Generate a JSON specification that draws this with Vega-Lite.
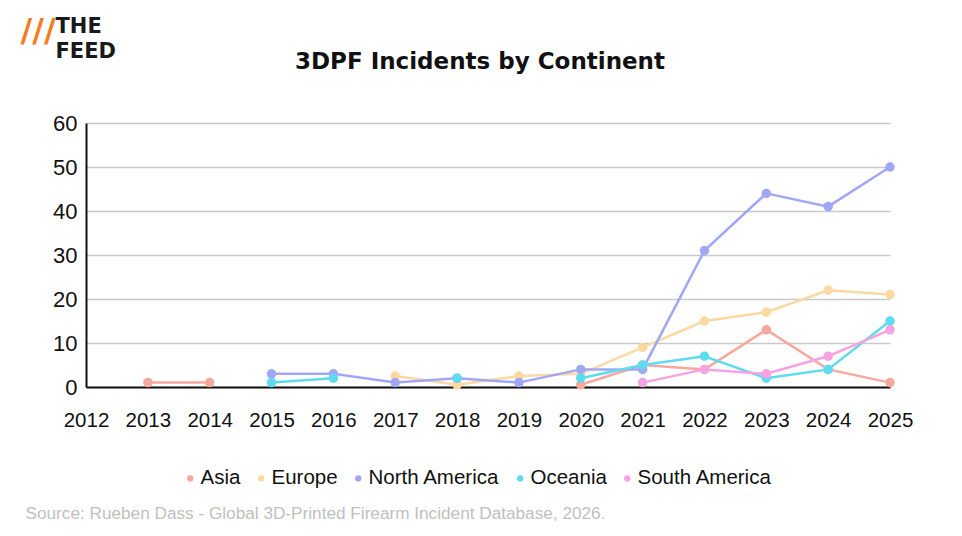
{
  "$schema": "https://vega.github.io/schema/vega-lite/v6.json",
  "width": 804,
  "height": 264,
  "autosize": {"type": "none"},
  "padding": {"left": 86, "top": 123, "right": 72, "bottom": 149},
  "background": "white",
  "title": {
    "text": "3DPF Incidents by Continent",
    "font": "DejaVu Sans",
    "fontSize": 23,
    "fontWeight": "bold",
    "color": "#111111",
    "anchor": "middle",
    "dx": -8,
    "offset": 0,
    "dy": 60
  },
  "config": {
    "view": {"stroke": null},
    "font": "Liberation Sans"
  },
  "data": {
    "values": [
      {"year": 2013, "continent": "Asia", "value": 1},
      {"year": 2014, "continent": "Asia", "value": 1},
      {"year": 2017, "continent": "Asia", "value": null},
      {"year": 2020, "continent": "Asia", "value": 0.5},
      {"year": 2021, "continent": "Asia", "value": 5},
      {"year": 2022, "continent": "Asia", "value": 4},
      {"year": 2023, "continent": "Asia", "value": 13},
      {"year": 2024, "continent": "Asia", "value": 4},
      {"year": 2025, "continent": "Asia", "value": 1},
      {"year": 2017, "continent": "Europe", "value": 2.5},
      {"year": 2018, "continent": "Europe", "value": 0.5},
      {"year": 2019, "continent": "Europe", "value": 2.5},
      {"year": 2020, "continent": "Europe", "value": 3},
      {"year": 2021, "continent": "Europe", "value": 9},
      {"year": 2022, "continent": "Europe", "value": 15},
      {"year": 2023, "continent": "Europe", "value": 17},
      {"year": 2024, "continent": "Europe", "value": 22},
      {"year": 2025, "continent": "Europe", "value": 21},
      {"year": 2015, "continent": "North America", "value": 3},
      {"year": 2016, "continent": "North America", "value": 3},
      {"year": 2017, "continent": "North America", "value": 1},
      {"year": 2018, "continent": "North America", "value": 2},
      {"year": 2019, "continent": "North America", "value": 1},
      {"year": 2020, "continent": "North America", "value": 4},
      {"year": 2021, "continent": "North America", "value": 4},
      {"year": 2022, "continent": "North America", "value": 31},
      {"year": 2023, "continent": "North America", "value": 44},
      {"year": 2024, "continent": "North America", "value": 41},
      {"year": 2025, "continent": "North America", "value": 50},
      {"year": 2015, "continent": "Oceania", "value": 1},
      {"year": 2016, "continent": "Oceania", "value": 2},
      {"year": 2017, "continent": "Oceania", "value": null},
      {"year": 2018, "continent": "Oceania", "value": 2},
      {"year": 2019, "continent": "Oceania", "value": null},
      {"year": 2020, "continent": "Oceania", "value": 2},
      {"year": 2021, "continent": "Oceania", "value": 5},
      {"year": 2022, "continent": "Oceania", "value": 7},
      {"year": 2023, "continent": "Oceania", "value": 2},
      {"year": 2024, "continent": "Oceania", "value": 4},
      {"year": 2025, "continent": "Oceania", "value": 15},
      {"year": 2021, "continent": "South America", "value": 1},
      {"year": 2022, "continent": "South America", "value": 4},
      {"year": 2023, "continent": "South America", "value": 3},
      {"year": 2024, "continent": "South America", "value": 7},
      {"year": 2025, "continent": "South America", "value": 13}
    ]
  },
  "encoding": {
    "x": {
      "field": "year",
      "type": "quantitative",
      "scale": {"domain": [2012, 2025], "nice": false, "zero": false},
      "axis": {
        "values": [2012, 2013, 2014, 2015, 2016, 2017, 2018, 2019, 2020, 2021, 2022, 2023, 2024, 2025],
        "format": "d",
        "grid": false,
        "ticks": false,
        "domain": true,
        "domainColor": "#111111",
        "domainWidth": 2,
        "labelFont": "Liberation Sans",
        "labelFontSize": 20.5,
        "labelColor": "#111111",
        "labelPadding": 23,
        "labelFlush": false,
        "labelOverlap": false,
        "title": "Source: Rueben Dass - Global 3D-Printed Firearm Incident Database, 2026.",
        "titleFont": "Liberation Sans",
        "titleFontSize": 17.2,
        "titleFontWeight": "normal",
        "titleColor": "#bfbfbf",
        "titleAnchor": "start",
        "titleAlign": "left",
        "titleBaseline": "middle",
        "titleX": -61,
        "titleY": 126
      }
    },
    "y": {
      "field": "value",
      "type": "quantitative",
      "scale": {"domain": [0, 60], "nice": false},
      "axis": {
        "values": [0, 10, 20, 30, 40, 50, 60],
        "grid": true,
        "gridColor": "#c9c9c9",
        "gridWidth": 1.5,
        "ticks": false,
        "domain": true,
        "domainColor": "#111111",
        "domainWidth": 2,
        "labelFont": "Liberation Sans",
        "labelFontSize": 22,
        "labelColor": "#111111",
        "labelPadding": 9,
        "title": "THE",
        "titleFont": "DejaVu Sans",
        "titleFontSize": 21,
        "titleFontWeight": "bold",
        "titleColor": "#1a1a1a",
        "titleAngle": 0,
        "titleAlign": "left",
        "titleBaseline": "top",
        "titleX": -31,
        "titleY": -108
      }
    },
    "color": {
      "field": "continent",
      "type": "nominal",
      "scale": {
        "domain": ["Asia", "Europe", "North America", "Oceania", "South America"],
        "range": ["#f6a89e", "#fcd9a2", "#a1a7f6", "#5edcef", "#f6a2e3"]
      },
      "legend": {
        "orient": "none",
        "direction": "horizontal",
        "legendX": 94,
        "legendY": 345,
        "title": null,
        "symbolType": "circle",
        "symbolSize": 40,
        "symbolStrokeWidth": 0,
        "symbolOpacity": 1,
        "labelFont": "Liberation Sans",
        "labelFontSize": 20.5,
        "labelColor": "#111111",
        "labelOffset": 0,
        "columnPadding": 10
      }
    }
  },
  "layer": [
    {
      "mark": {"type": "line", "strokeWidth": 2.5},
      "encoding": {"order": {"field": "year"}}
    },
    {
      "mark": {"type": "point", "filled": true, "size": 90, "opacity": 1},
      "encoding": {
        "x": {
          "field": "year",
          "type": "quantitative",
          "scale": {"domain": [2012, 2025], "nice": false, "zero": false},
          "axis": {
            "orient": "top",
            "labels": false,
            "ticks": false,
            "domain": false,
            "grid": false,
            "title": "FEED",
            "titleFont": "DejaVu Sans",
            "titleFontSize": 21,
            "titleFontWeight": "bold",
            "titleColor": "#1a1a1a",
            "titleAngle": 0,
            "titleAnchor": "start",
            "titleAlign": "left",
            "titleBaseline": "top",
            "titleX": -31,
            "titleY": -83
          }
        },
        "y": {
          "field": "value",
          "type": "quantitative",
          "scale": {"domain": [0, 60], "nice": false},
          "axis": {
            "orient": "right",
            "labels": false,
            "ticks": false,
            "domain": false,
            "grid": false,
            "title": "///",
            "titleFont": "DejaVu Sans",
            "titleFontSize": 32,
            "titleFontWeight": "bold",
            "titleColor": "#f57c21",
            "titleAngle": 0,
            "titleAlign": "left",
            "titleBaseline": "top",
            "titleX": -870,
            "titleY": -108
          }
        }
      }
    }
  ],
  "resolve": {"scale": {"y": "independent", "x": "independent"}}
}
